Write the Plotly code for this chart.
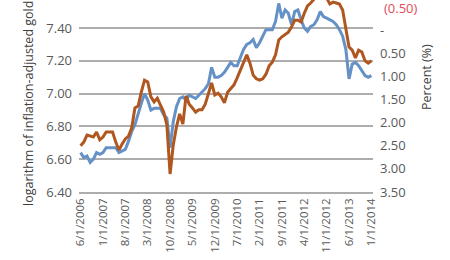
import plotly.graph_objects as go

# Monthly observations, Jun 2006 .. Jan 2014
tick_labels = ["6/1/2006", "1/1/2007", "8/1/2007", "3/1/2008", "10/1/2008", "5/1/2009",
               "12/1/2009", "7/1/2010", "2/1/2011", "9/1/2011", "4/1/2012", "11/1/2012",
               "6/1/2013", "1/1/2014"]

log_gold = [6.64, 6.61, 6.62, 6.58, 6.60, 6.64, 6.63, 6.64, 6.67, 6.67,
            6.67, 6.67, 6.64, 6.65, 6.66, 6.71, 6.77, 6.81, 6.88, 6.94,
            7.00, 6.96, 6.90, 6.91, 6.91, 6.91, 6.87, 6.85, 6.67, 6.83,
            6.92, 6.97, 6.98, 6.96, 6.99, 6.98, 6.97, 6.99, 7.01, 7.03,
            7.06, 7.16, 7.10, 7.10, 7.11, 7.13, 7.16, 7.19, 7.17, 7.17,
            7.22, 7.27, 7.30, 7.31, 7.33, 7.28, 7.31, 7.35, 7.39, 7.39,
            7.39, 7.44, 7.55, 7.46, 7.51, 7.49, 7.42, 7.50, 7.51, 7.45,
            7.40, 7.38, 7.41, 7.42, 7.45, 7.50, 7.47, 7.46, 7.45, 7.44,
            7.42, 7.39, 7.35, 7.27, 7.09, 7.18, 7.19, 7.17, 7.14, 7.11,
            7.10, 7.11]

real_yield = [2.50, 2.42, 2.27, 2.29, 2.31, 2.20, 2.37, 2.31, 2.20, 2.20,
              2.20, 2.42, 2.59, 2.46, 2.35, 2.29, 2.11, 1.68, 1.64, 1.34,
              1.08, 1.12, 1.44, 1.55, 1.47, 1.62, 1.77, 2.05, 3.11, 2.48,
              2.09, 1.81, 2.03, 1.42, 1.60, 1.68, 1.77, 1.72, 1.72, 1.60,
              1.36, 1.14, 1.40, 1.36, 1.44, 1.57, 1.34, 1.25, 1.18, 1.03,
              0.86, 0.69, 0.53, 0.71, 0.97, 1.05, 1.08, 1.05, 0.95, 0.77,
              0.69, 0.53, 0.21, 0.14, 0.08, 0.04, -0.07, -0.22, -0.22, -0.18,
              -0.37, -0.53, -0.59, -0.66, -0.74, -0.83, -0.79, -0.70, -0.57, -0.61,
              -0.59, -0.57, -0.44, -0.01, 0.36, 0.43, 0.60, 0.43, 0.47, 0.66,
              0.71, 0.66]

left_ticks = [6.40, 6.60, 6.80, 7.00, 7.20, 7.40, 7.60]
right_ticks = [-0.5, 0.0, 0.5, 1.0, 1.5, 2.0, 2.5, 3.0, 3.5]

x = list(range(len(log_gold)))
tick_pos = list(range(0, len(log_gold), 7))

txt = "#595959"
font = "Open Sans"

def fmt_right(v):
    if v == 0:
        return "-"
    if v < 0:
        return ""  # negative shown in red via annotation below
    return "%.2f" % v

fig = go.Figure()
fig.add_trace(go.Scatter(x=x, y=log_gold, mode="lines",
                         line=dict(color="#6591C7", width=3), yaxis="y"))
fig.add_trace(go.Scatter(x=x, y=real_yield, mode="lines",
                         line=dict(color="#B0561F", width=3), yaxis="y2"))

fig.update_layout(
    width=450, height=260,
    margin=dict(l=79, r=77, t=0, b=68),
    paper_bgcolor="white", plot_bgcolor="white",
    showlegend=False,
    font=dict(family=font, color=txt),
    xaxis=dict(range=[-0.5, len(log_gold) - 0.5], tickmode="array",
               tickvals=tick_pos, ticktext=tick_labels, tickangle=-90,
               tickfont=dict(size=11.5, color=txt), showgrid=False,
               showline=True, linecolor="#ADADAD", linewidth=1.5,
               ticks="", zeroline=False),
    yaxis=dict(range=[6.40, 6.40 + 192 / 32.8 * 0.2], tickmode="array",
               tickvals=left_ticks, ticktext=["%.2f" % v for v in left_ticks],
               tickfont=dict(size=13, color=txt), showgrid=True,
               gridcolor="#ADADAD", gridwidth=1.5, zeroline=False,
               showline=False, ticks="", ticklabelstandoff=6),
    yaxis2=dict(range=[3.5, 3.5 - 192 / 23.1 * 0.5], overlaying="y", side="right",
                tickmode="array", tickvals=right_ticks,
                ticktext=[fmt_right(v) for v in right_ticks],
                tickfont=dict(size=13, color=txt), showgrid=False,
                zeroline=False, showline=False, ticks="", ticklabelstandoff=6),
)

for v in right_ticks:
    if v < 0:
        fig.add_annotation(text="(%.2f)" % abs(v), xref="paper", yref="y2",
                           x=(383 - 79) / 294, y=v, xanchor="left", yanchor="middle",
                           yshift=-1, borderpad=0,
                           showarrow=False,
                           font=dict(size=13, color="#E04B5A", family=font))

fig.add_annotation(text="logarithm of inflation-adjusted gold price",
                   xref="paper", yref="paper", x=(28 - 79) / 294, y=-16 / 192,
                   xanchor="center", yanchor="bottom", textangle=-90,
                   showarrow=False, font=dict(size=12.5, color="#404040", family=font))
fig.add_annotation(text="Percent (%)", xref="paper", yref="paper",
                   x=(426 - 79) / 294, y=(192 - 77) / 192,
                   xanchor="center", yanchor="middle", textangle=-90,
                   showarrow=False, font=dict(size=12.5, color="#404040", family=font))

fig.write_html("out.html")
